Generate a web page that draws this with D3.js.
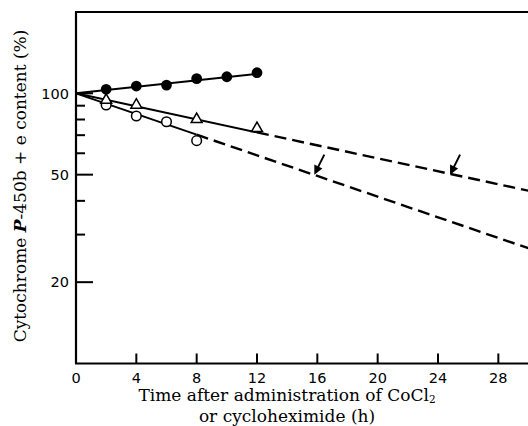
<!DOCTYPE html>
<html>
<head>
<meta charset="utf-8">
<script src="https://cdn.jsdelivr.net/npm/d3@7"></script>
<style>
  html, body { margin: 0; padding: 0; background: #fff; }
  svg { display: block; }
</style>
</head>
<body>
<svg id="chart" width="528" height="426"></svg>
<script>
// ---- data ----
const xTicks = [4, 8, 12, 16, 20, 24, 28];
const yMajorTicks = [100, 50, 20];
const yMinorTicks = [90, 80, 70, 60, 40, 30];

const openCircleTimes = [2, 4, 6, 8];
const openCircleValues = [90.5, 82.4, 78.5, 66.8];

const triangleTimes = [2, 4, 8, 12];
const triangleValues = [94.4, 90.5, 80.1, 74.2];

const filledTimes = [2, 4, 6, 8, 10, 12];
const filledValues = [103.5, 106.4, 107.3, 113.3, 115.2, 119.2];

// fitted lines: solid part then dashed extrapolation
const filledFitTimes = [0, 12];
const filledFitValues = [100, 118];
const triangleFitTimes = [0, 12, 30];
const triangleFitValues = [100, 71.7, 43.6];
const circleFitTimes = [0, 8, 30];
const circleFitValues = [100, 70.3, 26.7];

// half-life arrows (time, value)
const arrowTimes = [15.8, 24.8];
const arrowValues = [50, 50];

// ---- layout ----
const svg = d3.select("#chart");
const x = d3.scaleLinear().domain([0, 30]).range([76, 528.5]);
const y = d3.scaleLog().domain([10, 200]).range([363.5, 12]);

const g = svg.append("g");
const tickFont = "'DejaVu Sans', Arial, sans-serif";
const titleFont = "'DejaVu Serif', 'Liberation Serif', serif";

// frame: left axis, bottom axis, top line
g.append("line").attr("x1", x(0)).attr("x2", x(0)).attr("y1", y(200)).attr("y2", y(10))
  .attr("stroke", "#000").attr("stroke-width", 2.2);
g.append("line").attr("x1", x(0) - 1).attr("x2", 528).attr("y1", y(10)).attr("y2", y(10))
  .attr("stroke", "#000").attr("stroke-width", 2.2);
g.append("line").attr("x1", x(0) - 1).attr("x2", 528).attr("y1", y(200)).attr("y2", y(200))
  .attr("stroke", "#000").attr("stroke-width", 2);

// y ticks (inward)
g.selectAll(".ymaj").data(yMajorTicks).enter().append("line")
  .attr("x1", x(0)).attr("x2", x(0) + 17).attr("y1", d => y(d)).attr("y2", d => y(d))
  .attr("stroke", "#000").attr("stroke-width", 2);
g.selectAll(".ymin").data(yMinorTicks).enter().append("line")
  .attr("x1", x(0)).attr("x2", x(0) + 9).attr("y1", d => y(d)).attr("y2", d => y(d))
  .attr("stroke", "#000").attr("stroke-width", 2);
g.selectAll(".ylab").data(yMajorTicks).enter().append("text")
  .attr("x", x(0) - 7).attr("y", d => y(d)).attr("dy", "0.36em")
  .attr("text-anchor", "end")
  .attr("font-family", tickFont).attr("font-size", 14.5)
  .text(d => d);

// x ticks (inward)
g.selectAll(".xt").data(xTicks).enter().append("line")
  .attr("x1", d => x(d)).attr("x2", d => x(d)).attr("y1", y(10)).attr("y2", y(10) - 10)
  .attr("stroke", "#000").attr("stroke-width", 2);
g.selectAll(".xlab").data([0].concat(xTicks)).enter().append("text")
  .attr("x", d => x(d)).attr("y", y(10) + 19)
  .attr("text-anchor", "middle")
  .attr("font-family", tickFont).attr("font-size", 14.5)
  .text(d => d);

// fitted lines
const line = d3.line().x(d => x(d[0])).y(d => y(d[1]));
function drawFit(times, values) {
  const pts = times.map((t, i) => [t, values[i]]);
  g.append("path").attr("d", line(pts.slice(0, 2)))
    .attr("fill", "none").attr("stroke", "#000").attr("stroke-width", 2);
  if (pts.length > 2) {
    g.append("path").attr("d", line(pts.slice(1)))
      .attr("fill", "none").attr("stroke", "#000").attr("stroke-width", 2.4)
      .attr("stroke-dasharray", "12,6");
  }
}
drawFit(filledFitTimes, filledFitValues);
drawFit(triangleFitTimes, triangleFitValues);
drawFit(circleFitTimes, circleFitValues);

// markers
g.selectAll(".fc").data(filledTimes).enter().append("circle")
  .attr("cx", d => x(d)).attr("cy", (d, i) => y(filledValues[i])).attr("r", 5.4)
  .attr("fill", "#000");
g.selectAll(".oc").data(openCircleTimes).enter().append("circle")
  .attr("cx", d => x(d)).attr("cy", (d, i) => y(openCircleValues[i])).attr("r", 4.8)
  .attr("fill", "#fff").attr("stroke", "#000").attr("stroke-width", 1.5);
const tri = d3.symbol().type(d3.symbolTriangle).size(52);
g.selectAll(".tr").data(triangleTimes).enter().append("path")
  .attr("d", tri)
  .attr("transform", (d, i) => `translate(${x(d)},${y(triangleValues[i])})`)
  .attr("fill", "#fff").attr("stroke", "#000").attr("stroke-width", 1.5);

// arrows
arrowTimes.forEach((t, i) => {
  const tx = x(t), ty = y(arrowValues[i]);
  const sx = tx + 10, sy = ty - 20;
  g.append("line").attr("x1", sx).attr("y1", sy).attr("x2", tx + 3).attr("y2", ty - 6)
    .attr("stroke", "#000").attr("stroke-width", 2);
  const ang = Math.atan2(ty - sy, tx - sx);
  const L = 9, W = 4.5;
  const bx = tx - L * Math.cos(ang), by = ty - L * Math.sin(ang);
  const px = -Math.sin(ang) * W, py = Math.cos(ang) * W;
  g.append("path")
    .attr("d", `M${tx},${ty}L${bx + px},${by + py}L${bx - px},${by - py}Z`)
    .attr("fill", "#000");
});

// axis titles
const yTitle = svg.append("text")
  .attr("transform", "translate(26,186) rotate(-90)")
  .attr("text-anchor", "middle")
  .attr("font-family", titleFont).attr("font-size", 17);
yTitle.append("tspan").text("Cytochrome ");
yTitle.append("tspan").attr("font-style", "italic").attr("font-weight", "bold").text("P");
yTitle.append("tspan").text("-450b + e content (%)");

// x title: one text element, two lines
const xTitle = svg.append("text")
  .attr("x", 287).attr("y", 401)
  .attr("text-anchor", "middle")
  .attr("font-family", titleFont).attr("font-size", 17);
xTitle.append("tspan").text("Time after administration of CoCl");
xTitle.append("tspan").attr("font-size", 10.5).attr("dy", 2).text("2");
xTitle.append("tspan").attr("x", 287).attr("dy", 19).text("or cycloheximide (h)");
</script>
</body>
</html>
